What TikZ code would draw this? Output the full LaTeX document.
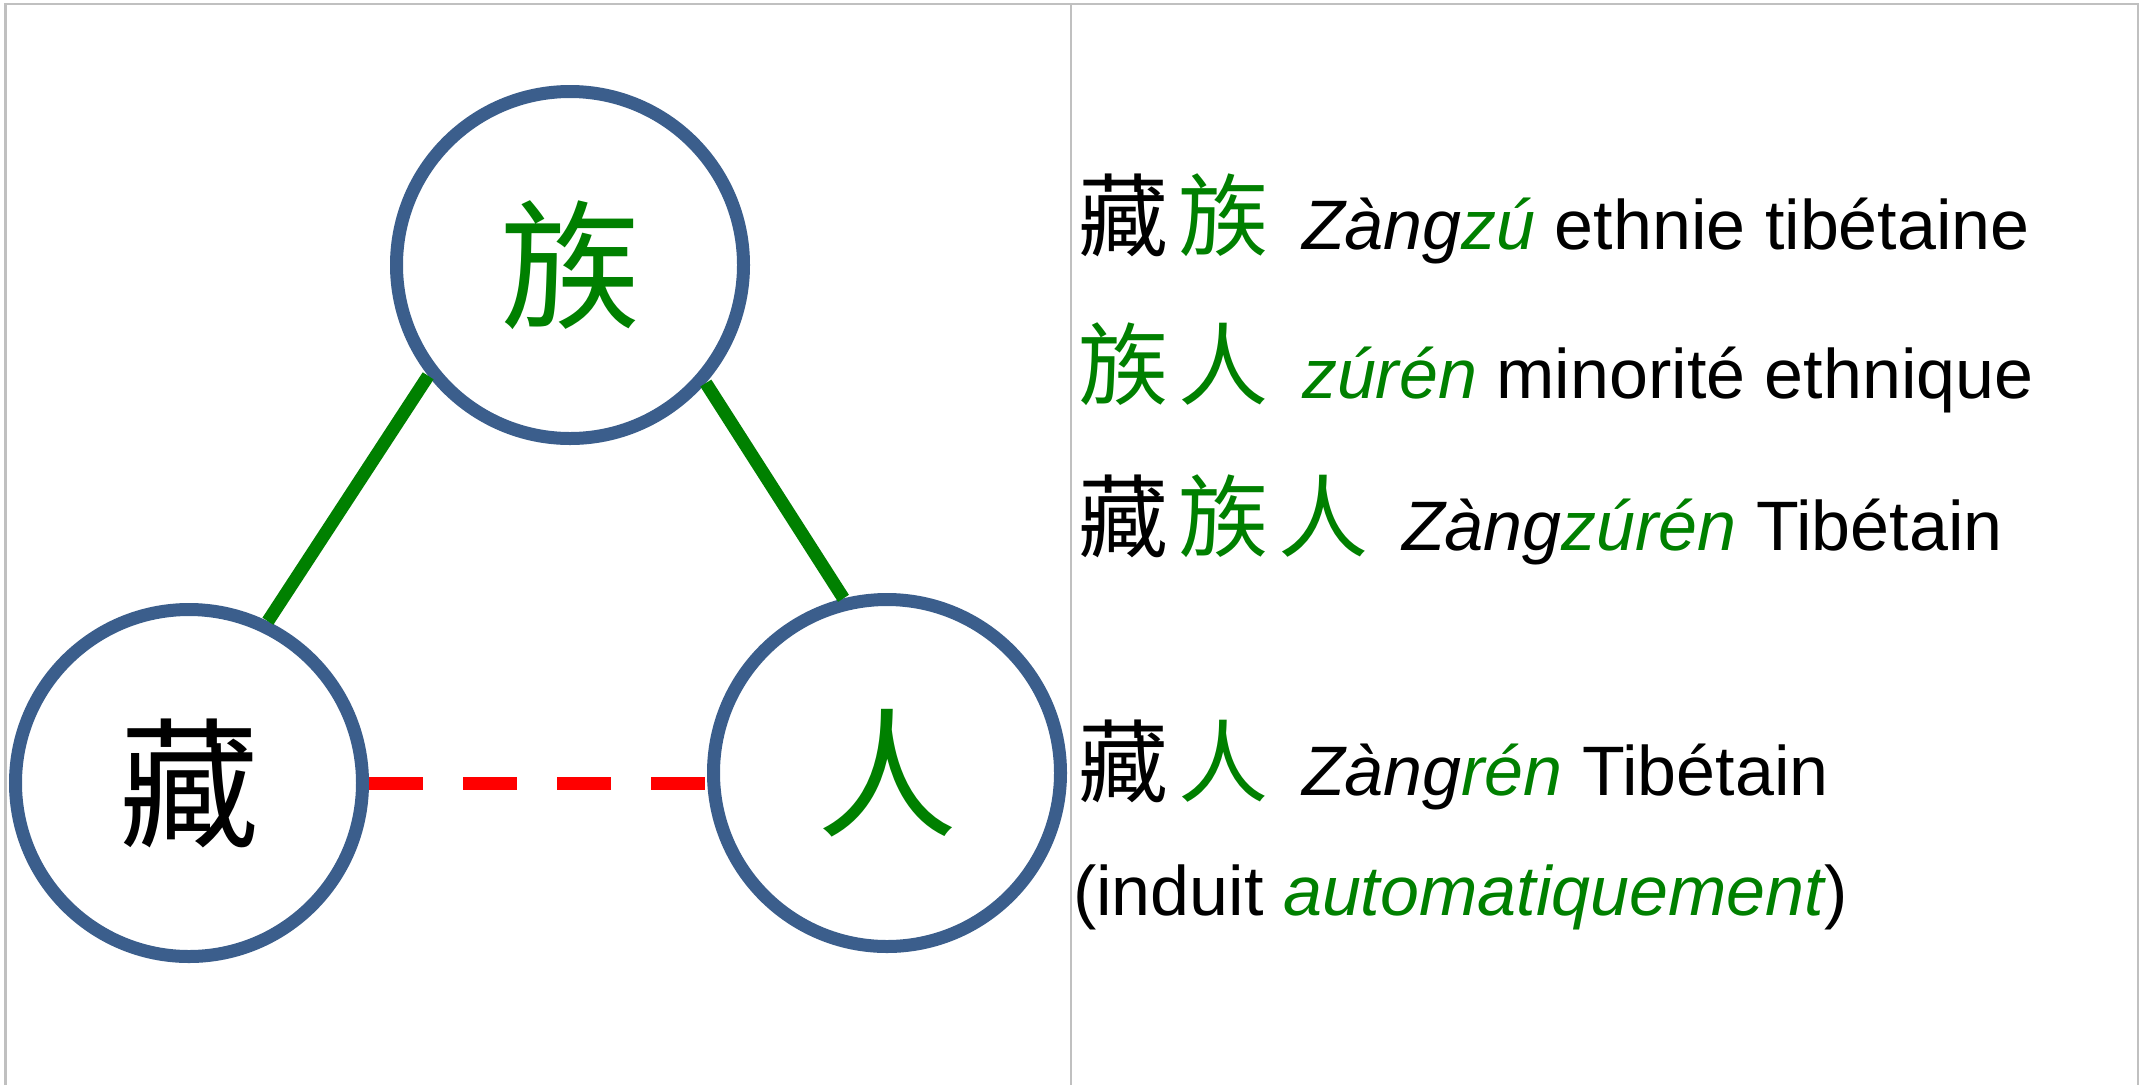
\documentclass[tikz,border=0pt]{standalone}
\usepackage{fontspec}
\setmainfont{Liberation Sans}
\newfontfamily\cjk{Noto Sans CJK SC}
\definecolor{zgreen}{RGB}{0,128,0}
\definecolor{ringblue}{RGB}{59,94,140}
\definecolor{framegray}{RGB}{192,192,192}
\definecolor{dashred}{RGB}{255,0,0}
\newcommand{\cjbox}[1]{\makebox[100pt][l]{\cjk\fontsize{90}{90}\selectfont #1}}
\begin{document}
\begin{tikzpicture}[x=1pt,y=-1pt,
  ring/.style={circle, draw=ringblue, line width=13pt, minimum size=347pt, inner sep=0pt, font=\cjk\fontsize{140}{140}\selectfont},
  link/.style={draw=zgreen, line width=13pt},
  induced/.style={draw=dashred, line width=13pt, dash pattern=on 54pt off 40pt},
  frameline/.style={draw=framegray, line width=2.6pt},
  entry/.style={anchor=base west, inner sep=0pt, outer sep=0pt, font=\fontsize{70}{80}\selectfont}]
\useasboundingbox (0,0) rectangle (2143,1085);
\draw[frameline] (5.3,1085) -- (5.3,4) -- (2138,4) -- (2138,1085);
\draw[frameline] (1071,4) -- (1071,1085);
\node[ring, text=zgreen] (zu) at (570,265) {族};
\node[ring, text=black] (zang) at (189,783) {藏};
\node[ring, text=zgreen] (ren) at (887,773) {人};
\draw[link] (zu.218.5) -- (zang.64.8);
\draw[link] (zu.319.5) -- (ren.104.8);
\draw[induced] (zang.east) -- (zang.east -| ren.west);
\node[entry] (l1) at (1078,249) {\cjbox{藏}\cjbox{\color{zgreen}族}\hspace{24pt}\textit{Zàng\textcolor{zgreen}{zú}} ethnie tibétaine};
\node[entry] (l2) at (1078,398) {\cjbox{\color{zgreen}族}\cjbox{\color{zgreen}人}\hspace{24pt}\textit{\color{zgreen}zúrén} minorité ethnique};
\node[entry] (l3) at (1078,550) {\cjbox{藏}\cjbox{\color{zgreen}族}\cjbox{\color{zgreen}人}\hspace{24pt}\textit{Zàng\textcolor{zgreen}{zúrén}} Tibétain};
\node[entry] (l4) at (1078,795) {\cjbox{藏}\cjbox{\color{zgreen}人}\hspace{24pt}\textit{Zàng\textcolor{zgreen}{rén}} Tibétain};
\node[entry] (l5) at (1073,915) {(induit \textit{\color{zgreen}automatiquement})};
\end{tikzpicture}
\end{document}
